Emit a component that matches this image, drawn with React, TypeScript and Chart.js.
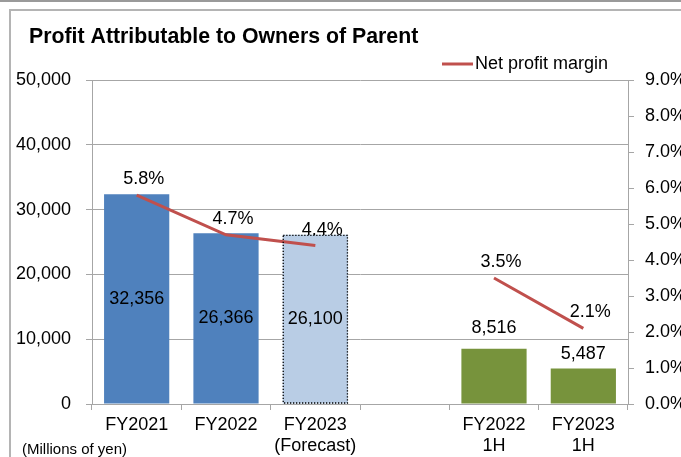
import React, { useEffect, useRef } from "react";
import { Chart, registerables } from "chart.js";

Chart.register(...registerables);

const categories: string[][] = [
  ["FY2021"],
  ["FY2022"],
  ["FY2023", "(Forecast)"],
  [""],
  ["FY2022", "1H"],
  ["FY2023", "1H"],
];
const profitValues: (number | null)[] = [32356, 26366, 26100, null, 8516, 5487];
const marginValues: (number | null)[] = [5.8, 4.7, 4.4, null, 3.5, 2.1];
const barColors = ["#4F81BD", "#4F81BD", "#B9CDE5", "#ffffff", "#77933C", "#77933C"];
const forecastIndex = 2;
const labelInside = [true, true, true, false, false, false];
const barLabelLift = [0, 0, 0, 0, 21, 14];

const titleText = "Profit Attributable to Owners of Parent";
const legendText = "Net profit margin";
const unitText = "(Millions of yen)";

const FONT = "'Liberation Sans', Arial, Helvetica, sans-serif";
const GRID = "#a6a6a6";
const LINE = "#C0504D";

const decorPlugin = {
  id: "decor",
  beforeDraw(chart: any) {
    const { ctx, width, height } = chart;
    ctx.save();
    ctx.fillStyle = "#ffffff";
    ctx.fillRect(0, 0, width, height);
    ctx.strokeStyle = "#9a9a9a";
    ctx.lineWidth = 2;
    ctx.beginPath();
    ctx.moveTo(0, 1);
    ctx.lineTo(width, 1);
    ctx.stroke();
    ctx.strokeStyle = "#b4b4b4";
    ctx.beginPath();
    ctx.moveTo(10, height);
    ctx.lineTo(10, 10);
    ctx.lineTo(width, 10);
    ctx.stroke();
    ctx.restore();
  },
  afterDatasetsDraw(chart: any) {
    const ctx = chart.ctx;
    ctx.save();
    const barMeta = chart.getDatasetMeta(0);
    const fb = barMeta.data[forecastIndex];
    if (fb) {
      const p = fb.getProps(["x", "y", "base", "width"], true);
      const l = p.x - p.width / 2;
      ctx.strokeStyle = "#000";
      ctx.lineWidth = 1.3;
      ctx.setLineDash([1.3, 1.7]);
      ctx.strokeRect(l + 0.5, p.y + 0.5, p.width - 1, p.base - p.y - 1);
      ctx.setLineDash([]);
    }
    ctx.font = `18px ${FONT}`;
    ctx.fillStyle = "#000";
    ctx.textAlign = "center";
    ctx.textBaseline = "middle";
    barMeta.data.forEach((el: any, i: number) => {
      const v = profitValues[i];
      if (v == null) return;
      const p = el.getProps(["x", "y", "base"], true);
      const txt = v.toLocaleString("en-US");
      if (labelInside[i]) {
        ctx.fillText(txt, p.x, (p.y + p.base) / 2);
      } else {
        ctx.fillText(txt, p.x, p.y - barLabelLift[i]);
      }
    });
    const lineMeta = chart.getDatasetMeta(1);
    lineMeta.data.forEach((el: any, i: number) => {
      const v = marginValues[i];
      if (v == null) return;
      const p = el.getProps(["x", "y"], true);
      ctx.fillText(v.toFixed(1) + "%", p.x + 7, p.y - 16);
    });
    ctx.restore();
  },
  afterDraw(chart: any) {
    const ctx = chart.ctx;
    ctx.save();
    ctx.fillStyle = "#000";
    ctx.textAlign = "left";
    ctx.textBaseline = "alphabetic";
    ctx.font = `bold 21.3px ${FONT}`;
    ctx.fillText(titleText, 29, 43);
    ctx.strokeStyle = LINE;
    ctx.lineWidth = 3;
    ctx.beginPath();
    ctx.moveTo(442, 64);
    ctx.lineTo(473, 64);
    ctx.stroke();
    ctx.font = `18px ${FONT}`;
    ctx.textBaseline = "middle";
    ctx.fillText(legendText, 475, 64);
    ctx.font = `15px ${FONT}`;
    ctx.textBaseline = "alphabetic";
    ctx.fillText(unitText, 22, 454);
    ctx.restore();
  },
};

export default function App() {
  const ref = useRef<HTMLCanvasElement | null>(null);
  useEffect(() => {
    if (!ref.current) return;
    const chart = new Chart(ref.current, {
      type: "bar",
      data: {
        labels: categories as any,
        datasets: [
          {
            type: "bar",
            data: profitValues as any,
            backgroundColor: barColors,
            borderWidth: 0,
            categoryPercentage: 1,
            barPercentage: 0.73,
            yAxisID: "y",
            order: 2,
          },
          {
            type: "line",
            data: marginValues as any,
            borderColor: LINE,
            backgroundColor: LINE,
            borderWidth: 3,
            pointRadius: 0,
            tension: 0,
            spanGaps: false,
            yAxisID: "y1",
            order: 1,
          },
        ],
      },
      options: {
        animation: false,
        responsive: false,
        devicePixelRatio: 1,
        layout: { padding: { top: 80, left: 0, right: 0, bottom: 0 } },
        plugins: {
          legend: { display: false },
          tooltip: { enabled: false },
          title: { display: false },
        },
        scales: {
          x: {
            type: "category",
            offset: true,
            grid: {
              offset: true,
              drawOnChartArea: false,
              drawTicks: true,
              tickLength: 6,
              color: GRID,
            },
            border: { color: GRID, width: 1 },
            ticks: {
              font: { size: 18, family: FONT },
              color: "#000",
              padding: 4,
              maxRotation: 0,
              autoSkip: false,
            },
            afterFit(s: any) {
              s.height = 53;
            },
          },
          y: {
            position: "left",
            min: 0,
            max: 50000,
            ticks: {
              stepSize: 10000,
              font: { size: 18, family: FONT },
              color: "#000",
              padding: 15,
              callback: (v: any) => Number(v).toLocaleString("en-US"),
            },
            grid: { color: GRID, tickLength: 6 },
            border: { color: GRID, width: 1 },
            afterFit(s: any) {
              s.width = 92;
            },
          },
          y1: {
            position: "right",
            min: 0,
            max: 9,
            ticks: {
              stepSize: 1,
              font: { size: 18, family: FONT },
              color: "#000",
              padding: 11,
              callback: (v: any) => Number(v).toFixed(1) + "%",
            },
            grid: { color: GRID, tickLength: 6, drawOnChartArea: false },
            border: { color: GRID, width: 1 },
            afterFit(s: any) {
              s.width = 53;
            },
          },
        },
      } as any,
      plugins: [decorPlugin],
    });
    return () => chart.destroy();
  }, []);
  return (
    <div style={{ position: "fixed", left: 0, top: 0, width: 681, height: 457, background: "#fff" }}>
      <canvas ref={ref} width={681} height={457} style={{ width: 681, height: 457, display: "block" }} />
    </div>
  );
}
